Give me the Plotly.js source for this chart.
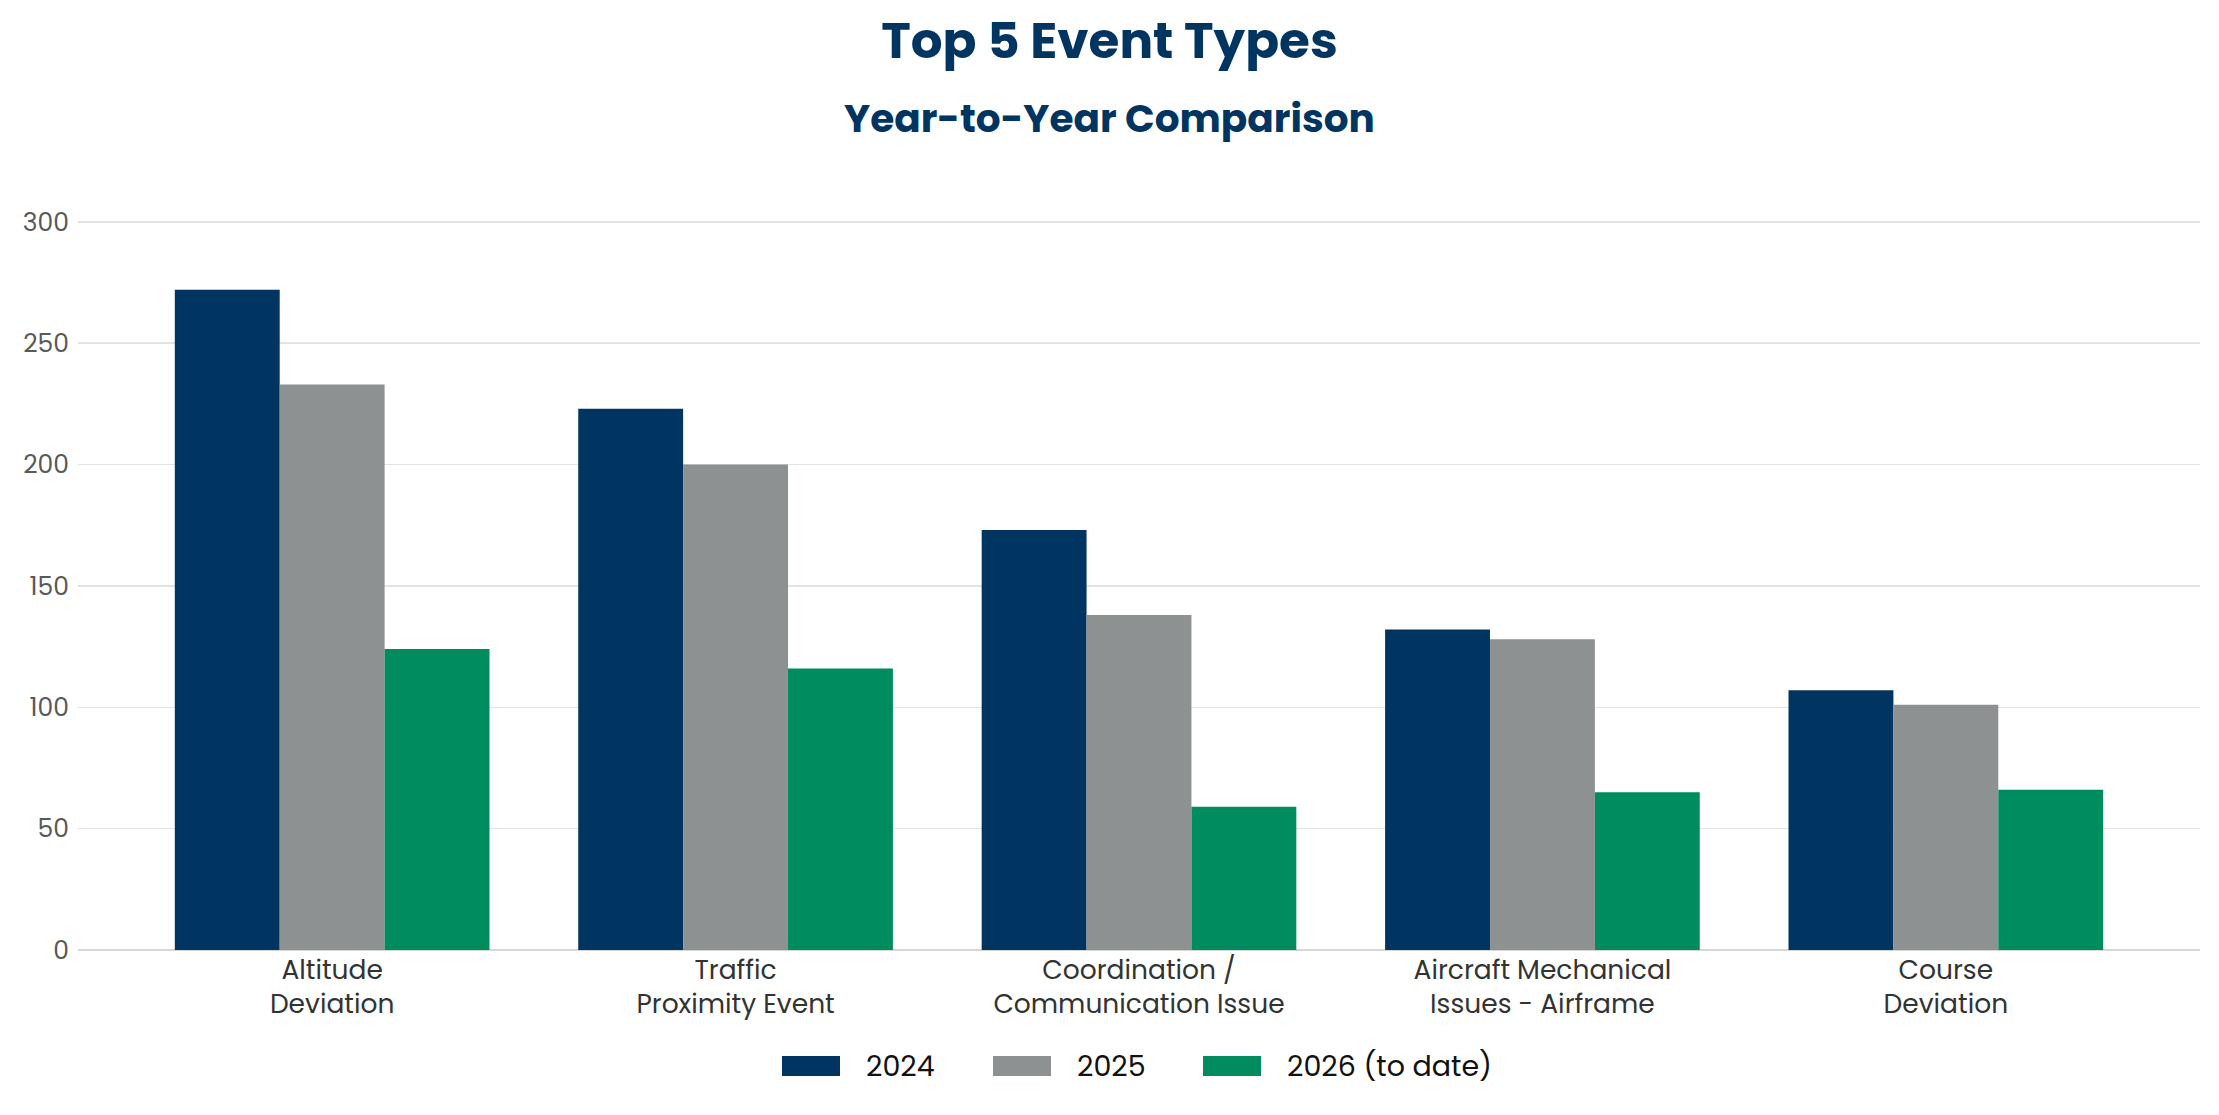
<!DOCTYPE html>
<html>
<head>
<meta charset="utf-8">
<script src="https://cdn.plot.ly/plotly-3.0.1.min.js"></script>
<style>
  html, body { margin: 0; padding: 0; background: #fff; }
  #chart { width: 2219px; height: 1115px; }
</style>
</head>
<body>
<div id="chart"></div>
<script>
// event types on the x axis
const categories = [
  'Altitude<br>Deviation',
  'Traffic<br>Proximity Event',
  'Coordination /<br>Communication Issue',
  'Aircraft Mechanical<br>Issues - Airframe',
  'Course<br>Deviation',
];

// counts per year
const counts2024 = [272, 223, 173, 132, 107];
const counts2025 = [233, 200, 138, 128, 101];
const counts2026 = [124, 116, 59, 65, 66];

const seriesNames = ['2024', '2025', '2026 (to date)'];
const seriesColors = ['#003562', '#8e9191', '#008c5f'];

const yTicks = [0, 50, 100, 150, 200, 250, 300];

const FONT = 'Poppins, Inter, "Open Sans", sans-serif';
const W = 2219, H = 1115;
const margin = { l: 78, r: 19, t: 217, b: 165 };
const plotW = W - margin.l - margin.r;
const plotH = H - margin.t - margin.b;

// pixel -> paper helpers for the hand-made legend
const px = x => (x - margin.l) / plotW;
const py = y => (H - margin.b - y) / plotH;

const data = [counts2024, counts2025, counts2026].map((vals, i) => ({
  name: seriesNames[i],
  x: categories,
  y: vals,
  type: 'bar',
  marker: { color: seriesColors[i] },
  showlegend: false,
  hoverinfo: 'x+y+name',
}));

// legend with wide swatches, like the original
const legendItems = [
  { swatch: 782, text: 864 },
  { swatch: 993, text: 1075 },
  { swatch: 1203, text: 1285 },
];
const shapes = legendItems.map((it, i) => ({
  type: 'rect',
  xref: 'paper', yref: 'paper',
  x0: px(it.swatch), x1: px(it.swatch + 58),
  y0: py(1076), y1: py(1056),
  fillcolor: seriesColors[i],
  line: { width: 0 },
}));
const annotations = legendItems.map((it, i) => ({
  text: seriesNames[i],
  xref: 'paper', yref: 'paper',
  x: px(it.text), y: py(1066),
  xanchor: 'left', yanchor: 'middle',
  showarrow: false,
  font: { family: FONT, size: 28.5, color: '#111111' },
}));
annotations.push({
  text: '<b>Year-to-Year Comparison</b>',
  xref: 'paper', yref: 'paper',
  x: px(W / 2), y: py(119),
  xanchor: 'center', yanchor: 'middle',
  showarrow: false,
  font: { family: FONT, size: 39, color: '#003562' },
});

const layout = {
  width: W,
  height: H,
  margin,
  paper_bgcolor: '#ffffff',
  plot_bgcolor: '#ffffff',
  font: { family: FONT },
  title: {
    text: '<b>Top 5 Event Types</b>',
    font: { family: FONT, size: 50, color: '#003562' },
    x: 0.5, xref: 'container', xanchor: 'center',
    y: 1 - 40 / H, yref: 'container', yanchor: 'middle',
  },
  barmode: 'group',
  bargap: 0.22,
  bargroupgap: 0,
  xaxis: {
    type: 'category',
    range: [-0.63, 4.63],
    showgrid: false,
    showline: false,
    ticks: '',
    ticklabelstandoff: 1,
    tickfont: { family: FONT, size: 26.5, color: '#333333' },
  },
  yaxis: {
    range: [0, 302],
    tickvals: yTicks,
    ticks: '',
    ticklabelstandoff: 8,
    showline: false,
    gridcolor: '#e3e3e3',
    gridwidth: 1.5,
    zeroline: true,
    zerolinecolor: '#d6d6d6',
    zerolinewidth: 2.5,
    tickfont: { family: FONT, size: 25, color: '#595959' },
  },
  shapes,
  annotations,
};

Plotly.newPlot('chart', data, layout, { displayModeBar: false, staticPlot: true });
</script>
</body>
</html>
